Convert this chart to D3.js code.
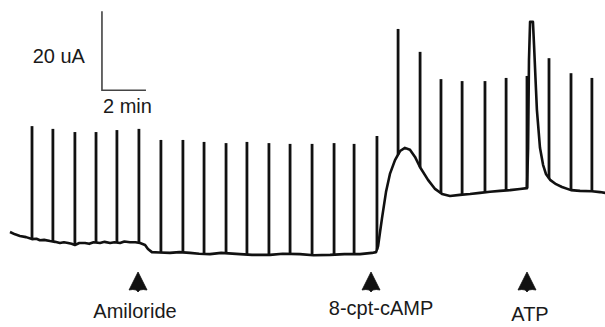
<!DOCTYPE html>
<html>
<head>
<meta charset="utf-8">
<script src="https://cdn.jsdelivr.net/npm/d3@7"></script>
<style>
  html, body { margin: 0; padding: 0; background: #fff; }
  svg { display: block; }
  text { font-family: "Liberation Sans", Arial, Helvetica, sans-serif; fill: #1a1a1a; }
</style>
</head>
<body>
<div id="chart"></div>
<script>
// Short-circuit current trace, time in minutes, current in uA
var traceTime = [0.00, 0.23, 0.45, 0.73, 1.00, 1.20, 1.36, 1.55, 1.82, 2.05, 2.27, 2.45, 2.64, 2.80, 2.95, 3.15, 3.41, 3.60, 3.80, 4.09,
    4.30, 4.55, 4.75, 5.00, 5.20, 5.45, 5.70, 5.91, 6.14, 6.27, 6.45, 6.80, 7.27, 7.70, 8.18, 8.60, 9.09, 9.60, 10.45, 11.00,
    11.82, 12.40, 13.18, 13.80, 14.55, 15.20, 15.91, 16.45, 16.64, 16.73, 16.82, 16.91, 17.09, 17.27, 17.50, 17.73, 17.95, 18.18,
    18.41, 18.64, 19.00, 19.32, 19.64, 20.00, 20.45, 20.91, 21.36, 21.82, 22.27, 22.73, 23.18, 23.50, 23.55, 23.59, 23.64,
    23.77, 23.82, 23.91, 23.95, 24.09, 24.23, 24.36, 24.55, 24.82, 25.09, 25.50, 25.91, 26.45, 26.82, 27.05];
var traceCurrent = [7.6, 7.0, 6.6, 6.3, 5.8, 5.9, 5.5, 5.6, 5.3, 5.1, 4.8, 5.0, 4.8, 4.6, 4.3, 4.8, 4.8, 4.6, 5.0, 4.8,
    5.1, 4.8, 5.0, 4.8, 5.2, 5.0, 5.0, 4.8, 4.3, 3.3, 2.5, 2.4, 2.3, 2.5, 2.3, 2.1, 2.0, 2.3, 2.0, 1.8,
    1.8, 2.1, 2.0, 1.7, 1.8, 2.0, 2.0, 2.3, 2.5, 4.0, 7.6, 11.1, 17.7, 22.3, 25.8, 28.1, 28.9, 28.4,
    26.6, 24.0, 20.8, 18.5, 17.2, 16.7, 17.0, 17.2, 17.5, 17.8, 18.0, 18.2, 18.5, 18.7, 28.9, 51.1, 60.8,
    60.8, 54.9, 43.5, 38.5, 28.9, 24.6, 22.3, 20.8, 19.7, 19.0, 18.2, 18.0, 17.9, 17.7, 17.5];

// Test pulses
var spikeTimes = [1.00, 1.95, 2.95, 3.91, 4.86, 5.86, 6.86, 7.86, 8.82, 9.82, 10.77, 11.77, 12.73, 13.73,
    14.73, 15.64, 16.68, 17.64, 18.64, 19.59, 20.55, 21.59, 22.55, 23.50, 24.50, 25.50, 26.45];
var spikeTops = [34.4, 33.7, 32.9, 32.9, 33.4, 33.7, 30.9, 30.9, 30.4, 30.1, 30.4, 30.1, 29.9, 29.9,
    30.1, 29.9, 31.9, 59.0, 53.2, 46.3, 45.8, 45.8, 46.6, 47.1, 51.6, 47.8, 46.6];

// Drug additions
var eventNames = ['Amiloride', '8-cpt-cAMP', 'ATP'];
var eventTimes = [5.82, 16.41, 23.50];

// Scale bar
var scaleBarCurrent = 20;
var scaleBarMinutes = 2;

var width = 605, height = 327;

var svg = d3.select('#chart').append('svg')
    .attr('width', width)
    .attr('height', height);

var x = d3.scaleLinear().domain([0, 27]).range([10, 604]);
var y = d3.scaleLinear().domain([0, 60]).range([262, 25]);

var trace = traceTime.map(function (t, i) { return { t: t, v: traceCurrent[i] }; });

function baseAt(t) {
    var i = d3.bisector(function (d) { return d.t; }).left(trace, t);
    if (i <= 0) return trace[0].v;
    if (i >= trace.length) return trace[trace.length - 1].v;
    var a = trace[i - 1], b = trace[i];
    return a.v + (b.v - a.v) * (t - a.t) / (b.t - a.t);
}

// spikes
svg.selectAll('.spike')
    .data(spikeTimes)
    .enter()
    .append('line')
    .attr('class', 'spike')
    .attr('x1', function (d) { return x(d); })
    .attr('x2', function (d) { return x(d); })
    .attr('y1', function (d) { return y(baseAt(d)); })
    .attr('y2', function (d, i) { return y(spikeTops[i]); })
    .attr('stroke', '#111')
    .attr('stroke-width', 2.8);

// trace
var line = d3.line()
    .x(function (d) { return x(d.t); })
    .y(function (d) { return y(d.v); });

svg.append('path')
    .datum(trace)
    .attr('fill', 'none')
    .attr('stroke', '#111')
    .attr('stroke-width', 2.6)
    .attr('stroke-linejoin', 'round')
    .attr('d', line);

// scale bar
var sbT = 4.18, sbV = 43.5;
svg.append('path')
    .attr('fill', 'none')
    .attr('stroke', '#444')
    .attr('stroke-width', 1.6)
    .attr('d', 'M' + x(sbT) + ',' + y(sbV + scaleBarCurrent) +
        'V' + y(sbV) + 'H' + x(sbT + scaleBarMinutes));

svg.append('text')
    .attr('x', x(sbT) - 17)
    .attr('y', 63)
    .attr('text-anchor', 'end')
    .style('font-size', '20px')
    .text(scaleBarCurrent + ' uA');

svg.append('text')
    .attr('x', x(sbT) + 1)
    .attr('y', 113)
    .style('font-size', '20px')
    .text(scaleBarMinutes + ' min');

// arrows + labels
var labelDx = [-3, 10, 3];
var labelY = [318, 315, 321];
var arrow = 'M0,0 L9,18 Q5,17 1.8,18 L0,20 L-1.8,18 Q-5,17 -9,18 Z';

eventTimes.forEach(function (t, i) {
    svg.append('path')
        .attr('transform', 'translate(' + x(t) + ',272)')
        .attr('d', arrow)
        .attr('fill', '#111')
        .attr('stroke', '#111')
        .attr('stroke-width', 0.8)
        .attr('stroke-linejoin', 'round');

    svg.append('text')
        .attr('x', x(t) + labelDx[i])
        .attr('y', labelY[i])
        .attr('text-anchor', 'middle')
        .style('font-size', '20px')
        .text(eventNames[i]);
});
</script>
</body>
</html>
